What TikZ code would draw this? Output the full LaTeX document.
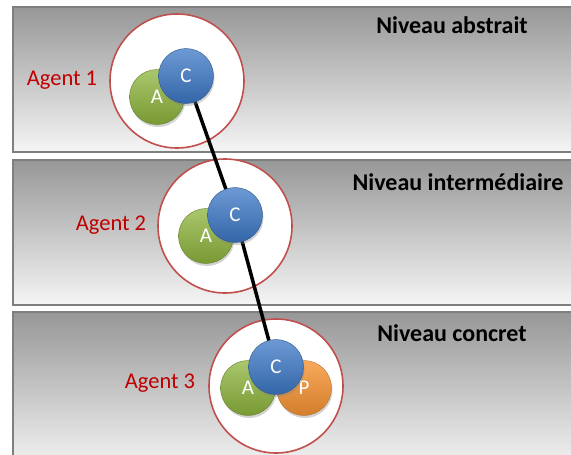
\documentclass[tikz,border=0pt]{standalone}
\usepackage{fontspec}
\setmainfont{Carlito}
\usetikzlibrary{shadows}
\usepackage{xcolor}
\definecolor{BandTop}{HTML}{979797}
\definecolor{BandBot}{HTML}{F5F5F5}
\definecolor{BandLine}{HTML}{7F7F7F}
\definecolor{RingRed}{HTML}{C0504D}
\definecolor{LabelRed}{HTML}{C00000}
\definecolor{BlueBall}{HTML}{3C78C6}
\definecolor{GreenBall}{HTML}{8DB43C}
\definecolor{OrangeBall}{HTML}{F79433}

\pgfdeclarelayer{back}
\pgfdeclarelayer{links}
\pgfsetlayers{back,links,main}

\tikzset{
  band/.style={draw=BandLine,line width=2pt,top color=BandTop,bottom color=BandBot},
  ring/.style={circle,draw=RingRed,line width=1.6pt,fill=white,minimum size=134pt,inner sep=0pt},
  ball/.style={circle,minimum size=55pt,inner sep=0pt,text=white,font=\fontsize{21}{21}\selectfont,
    drop shadow={shadow xshift=1pt,shadow yshift=-2.5pt,opacity=0.35}},
  ballC/.style={ball,draw=BlueBall!70!black,top color=BlueBall!75!white,bottom color=BlueBall!85!black},
  ballA/.style={ball,draw=GreenBall!70!black,top color=GreenBall!75!white,bottom color=GreenBall!85!black},
  ballP/.style={ball,draw=OrangeBall!75!black,top color=OrangeBall!80!white,bottom color=OrangeBall!85!black},
  agentlbl/.style={text=LabelRed,font=\fontsize{22.5}{22.5}\selectfont},
  levellbl/.style={font=\fontsize{24}{24}\selectfont\bfseries},
  link/.style={line width=3.5pt,black}
}

\begin{document}
\begin{tikzpicture}[x=1pt,y=-1pt]
    \useasboundingbox (0,0) rectangle (571,455);
    \clip (0,0) rectangle (571,455);
    \begin{pgfonlayer}{back}
      % Levels
      \path[band] (13,7) rectangle (585,152);
      \path[band] (13,160) rectangle (585,305);
      \path[band] (13,312) rectangle (585,470);
      % Agent rings
      \node[ring] (ring1) at (177,81) {};
      \node[ring] (ring2) at (225,226) {};
      \node[ring] (ring3) at (276,386) {};
    \end{pgfonlayer}
    % Level titles
    \node[levellbl] (lev1) at (452,25) {Niveau abstrait};
    \node[levellbl] (lev2) at (458,182) {Niveau intermédiaire};
    \node[levellbl] (lev3) at (452,333) {Niveau concret};
    % Agent labels
    \node[agentlbl] (lbl1) at (62,80) {Agent 1};
    \node[agentlbl] (lbl2) at (111,225) {Agent 2};
    \node[agentlbl] (lbl3) at (160,383) {Agent 3};
    % Agent 1
    \node[ballA] (a1) at (157,97) {A};
    \node[ballC] (c1) at (186,76) {C};
    % Agent 2
    \node[ballA] (a2) at (206,236) {A};
    \node[ballC] (c2) at (235,215) {C};
    % Agent 3
    \node[ballA] (a3) at (248,388) {A};
    \node[ballP] (p3) at (304,388) {P};
    \node[ballC] (c3) at (276,367) {C};
    % Link between the agents
    \begin{pgfonlayer}{links}
      \draw[link] (c1.center) -- (c2.center) -- (c3.center);
    \end{pgfonlayer}
\end{tikzpicture}
\end{document}
